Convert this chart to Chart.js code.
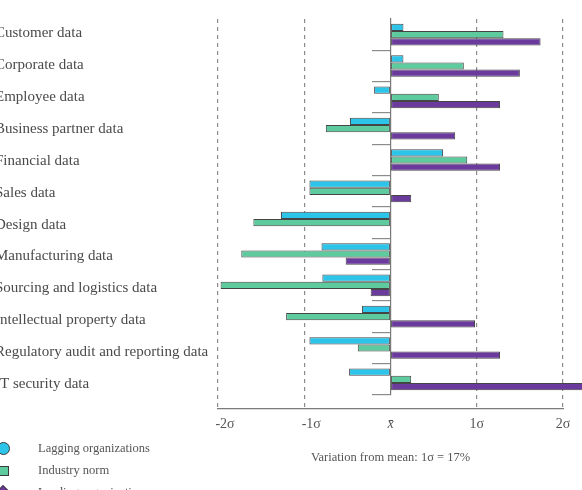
<!DOCTYPE html>
<html>
<head>
<meta charset="utf-8">
<script src="https://cdn.jsdelivr.net/npm/chart.js@4/dist/chart.umd.min.js"></script>
<style>
  html, body { margin: 0; padding: 0; background: #fff; overflow: hidden; }
  body { width: 582px; height: 490px; position: relative; }
  #wrap { position: absolute; left: -5px; top: 0; width: 587px; height: 490px; }
  #legend { position: absolute; left: 0; top: 437px; font: 12.5px "Liberation Serif", serif; color: #555; }
  #legend .item { position: relative; height: 22px; line-height: 22px; padding-left: 38px; white-space: nowrap; }
  #legend .icon { position: absolute; top: 50%; box-sizing: border-box; border: 1px solid #3a3a3a; }
  #legend .circle { width: 13px; height: 13px; border-radius: 50%; left: -3px; margin-top: -6px; }
  #legend .square { width: 10px; height: 10px; left: -1px; margin-top: -4px; }
  #legend .diamond { width: 10px; height: 10px; left: -2px; margin-top: -5px; transform: rotate(45deg); }
</style>
</head>
<body>
<div id="wrap"><canvas id="chart"></canvas></div>
<div id="legend"></div>
<script>
// --- Data ---
const CATEGORIES = [
    'Customer data', 'Corporate data', 'Employee data', 'Business partner data',
    'Financial data', 'Sales data', 'Design data', 'Manufacturing data',
    'Sourcing and logistics data', 'Intellectual property data',
    'Regulatory audit and reporting data', 'IT security data'
];
const SERIES_NAMES = ['Lagging organizations', 'Industry norm', 'Leading organizations'];
// values in sigma units (variation from mean)
const LAGGING = [0.15, 0.15, -0.19, -0.47, 0.61, -0.94, -1.27, -0.80, -0.79, -0.33, -0.94, -0.48];
const NORM    = [1.31, 0.85, 0.56, -0.75, 0.89, -0.94, -1.59, -1.73, -1.97, -1.21, -0.38, 0.24];
const LEADING = [1.74, 1.50, 1.27, 0.75, 1.27, 0.24, null, -0.52, -0.23, 0.98, 1.27, 2.30];
const SIGMA_TICKS  = [-2, -1, 0, 1, 2];
// negative labels sit to the right of their line in the original
const SIGMA_LABELS = ['\u2002\u2002-2\u03c3', '\u2002\u2002-1\u03c3', 'x\u0304', '1\u03c3', '2\u03c3'];
const AXIS_TITLE = 'Variation from mean: 1\u03c3 = 17%';

const COLORS = ['#2cc4e8', '#5ecb9f', '#6a3b9d'];
const LEGEND_SHAPES = ['circle', 'square', 'diamond'];

Chart.defaults.font.family = '"Liberation Serif", serif';
Chart.defaults.color = '#4a4a4a';

// --- HTML legend (single column, bottom left) ---
const htmlLegend = {
    id: 'htmlLegend',
    afterUpdate(chart) {
        const box = document.getElementById('legend');
        box.innerHTML = '';
        chart.data.datasets.forEach((ds, i) => {
            const row = document.createElement('div');
            row.className = 'item';
            const icon = document.createElement('span');
            icon.className = 'icon ' + LEGEND_SHAPES[i];
            icon.style.background = ds.backgroundColor;
            const txt = document.createElement('span');
            txt.textContent = ds.label;
            row.appendChild(icon);
            row.appendChild(txt);
            box.appendChild(row);
        });
    }
};

const gridGray = '#8a8a8a';
const catIndex = CATEGORIES.map((_, i) => i);

new Chart(document.getElementById('chart'), {
    type: 'bar',
    data: {
        labels: CATEGORIES,
        datasets: [LAGGING, NORM, LEADING].map((vals, i) => ({
            label: SERIES_NAMES[i],
            data: vals,
            backgroundColor: COLORS[i],
            borderColor: '#454545',
            borderWidth: 1,
            borderSkipped: false,
            categoryPercentage: 0.69,
            barPercentage: 1,
            clip: false
        }))
    },
    options: {
        indexAxis: 'y',
        responsive: true,
        maintainAspectRatio: false,
        animation: false,
        devicePixelRatio: 1,
        layout: { padding: { top: 19, right: 19, bottom: 0, left: 0 } },
        plugins: { legend: { display: false }, tooltip: { enabled: false } },
        scales: {
            y: { type: 'category', display: false },
            // category names: spaced a little wider than the bar groups, as in the original
            yl: {
                type: 'linear',
                position: 'left',
                reverse: true,
                offset: false,
                min: -0.452,
                max: 11.346,
                afterBuildTicks: (s) => { s.ticks = catIndex.map(v => ({ value: v })); },
                grid: { display: false },
                border: { display: false },
                ticks: {
                    autoSkip: false,
                    crossAlign: 'far',
                    padding: 0,
                    font: { size: 15 },
                    color: '#4a4a4a',
                    callback: (v) => CATEGORIES[v]
                },
                afterFit: (s) => { s.width = 223; }
            },
            y2: {
                type: 'category',
                position: { x: 0 },
                offset: true,
                grid: {
                    offset: true,
                    drawOnChartArea: false,
                    drawTicks: true,
                    tickLength: 18,
                    lineWidth: 1.2,
                    color: (ctx) => ctx.index === 0 ? 'rgba(0,0,0,0)'
                        : (ctx.index === CATEGORIES.length ? '#333' : '#8c8c8c')
                },
                border: { display: true, color: '#7a7a7a', width: 1.2 },
                ticks: { display: false }
            },
            x: {
                type: 'linear',
                position: 'bottom',
                weight: 0,
                min: -2,
                max: 2,
                afterBuildTicks: (s) => { s.ticks = SIGMA_TICKS.map(v => ({ value: v })); },
                grid: {
                    drawTicks: true,
                    tickLength: 14,
                    tickBorderDash: [4, 4],
                    color: (ctx) => (ctx.tick && ctx.tick.value === 0) ? 'rgba(0,0,0,0)' : gridGray,
                    lineWidth: 1.2
                },
                // in v4 the dash of the grid lines comes from border.dash
                border: { display: false, dash: [4, 4] },
                ticks: { display: false },
                afterFit: (s) => { s.height = 14; }
            },
            x2: {
                type: 'linear',
                position: 'bottom',
                weight: 1,
                min: -2,
                max: 2,
                afterBuildTicks: (s) => { s.ticks = SIGMA_TICKS.map(v => ({ value: v })); },
                grid: { display: false },
                border: { display: true, color: '#7a7a7a', width: 1.2 },
                ticks: {
                    padding: -1,
                    color: '#555',
                    font: (ctx) => ({ size: 14, style: (ctx.tick && ctx.tick.value === 0) ? 'italic' : 'normal' }),
                    callback: (v) => SIGMA_LABELS[SIGMA_TICKS.indexOf(v)]
                },
                title: {
                    display: true,
                    text: AXIS_TITLE,
                    color: '#555',
                    font: { size: 12.5 },
                    padding: { top: 4, bottom: 25 }
                },
                afterFit: (s) => { s.height = 81; }
            }
        }
    },
    plugins: [htmlLegend]
});
</script>
</body>
</html>
